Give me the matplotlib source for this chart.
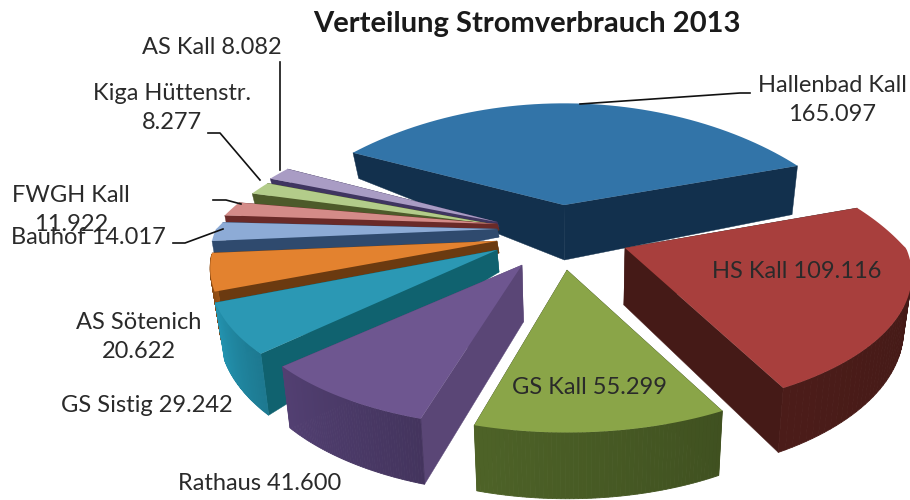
import matplotlib
matplotlib.use("Agg")
import matplotlib.pyplot as plt
from matplotlib.colors import to_rgb
from matplotlib.patches import Polygon
import numpy as np

plt.rcParams["font.family"] = ["Lato", "DejaVu Sans"]

names = ["Hallenbad Kall", "HS Kall", "GS Kall", "Rathaus", "GS Sistig",
         "AS Sötenich", "Bauhof", "FWGH Kall", "Kiga Hüttenstr.", "AS Kall"]
values = [165097, 109116, 55299, 41600, 29242, 20622, 14017, 11922, 8277, 8082]
top_colors = ["#3274a8", "#a83f3d", "#8aa548", "#6e5690", "#2b98b4",
              "#e3822f", "#8dabd6", "#d48b88", "#b3cc8a", "#a99cc4"]
wall_colors = ["#12304d", "#451a17", "#475a24", "#4b3a68", "#2086a0",
               "#8a4a14", "#5d7ca8", "#a85a56", "#80a058", "#7c6c9c"]
cut_colors = ["#12304d", "#451a17", "#3f4f1f", "#5a4676", "#10626f",
              "#6b3a10", "#2f4a6e", "#6a2a28", "#4d5a2a", "#3f3560"]

# layout of the exploded wedges, in pixels / degrees
tips = [(564, 205), (625, 248), (567, 270), (522, 265), (497, 250),
        (497, 241), (497, 229), (497, 224), (497, 225), (497, 222)]
tip_depth = [55, 57, 55, 57, 22, 12, 8, 6, 5, 5]
# the drawn perspective stretches some wedges, so edges get nudged a bit
nudge = [(-5.8, 1.5), (2, -1.6), (-2.2, -1.7), (-3.2, -1.4), (-0.4, 0.8),
         (0, 0), (0, 0), (-1.3, 0), (-6, -5.6), (-6.6, -6.3)]
draw_order = [0, 9, 8, 7, 6, 5, 4, 1, 3, 2]

start_angle = 152.3
RX, RY, RY_BACK, PERSP, DEPTH = 281, 130, 122, 0.2, 53


def project(t, tip):
    u, v = np.cos(t), np.sin(t)
    s = 1 / (1 + PERSP * v)
    dy = np.where(v > 0, RY_BACK * np.abs(v) ** 1.25, RY * v)
    d = DEPTH * s * (1 - np.clip(-u, 0, None) * np.clip(v, 0, None))
    return tip[0] + RX * u * s, tip[1] - dy * s, d


def lower_x(x):
    # walls lean a little towards the vanishing point
    return x - (x - 580) * 0.025


def draw_wedge(ax, i, a0, a1):
    tip = tips[i]
    ts = np.radians(np.linspace(a0, a1, 60))
    xs, ys, ds = project(ts, tip)
    tip_low = (lower_x(tip[0]), tip[1] + tip_depth[i])

    # cut faces first, then outer wall, then the top
    for k in (0, -1):
        ax.add_patch(Polygon([tip, (xs[k], ys[k]), (lower_x(xs[k]), ys[k] + ds[k]), tip_low],
                             fc=cut_colors[i], ec=cut_colors[i], lw=0.3))
    base = np.array(to_rgb(wall_colors[i]))
    for k in range(len(ts) - 1):
        if np.sin(ts[k]) > -0.1:
            continue
        shade = np.clip(base * (0.9 + 0.2 * k / len(ts)), 0, 1)
        ax.add_patch(Polygon([(xs[k], ys[k]), (xs[k + 1], ys[k + 1]),
                              (lower_x(xs[k + 1]), ys[k + 1] + ds[k + 1]),
                              (lower_x(xs[k]), ys[k] + ds[k])],
                             fc=shade, ec=shade, lw=0.6))
    ax.add_patch(Polygon([tip] + list(zip(xs, ys)), fc=top_colors[i], ec="none"))


fig = plt.figure(figsize=(9.1, 5.0), dpi=100)
ax = fig.add_axes([0, 0, 1, 1])
ax.set_xlim(0, 910)
ax.set_ylim(500, 0)
ax.axis("off")

sweeps = np.array(values) / sum(values) * 360
edges = start_angle - np.concatenate([[0], np.cumsum(sweeps)])
for i in draw_order:
    draw_wedge(ax, i, edges[i] + nudge[i][0], edges[i + 1] + nudge[i][1])

ax.text(527, 24, "Verteilung Stromverbrauch 2013", fontsize=21, fontweight="bold",
        ha="center", va="center", color="#1a1a1a", zorder=30)


def fmt(i):
    return f"{values[i]:,}".replace(",", ".")


labels = [(832, 100, f"{names[0]}\n{fmt(0)}"), (797, 272, f"{names[1]} {fmt(1)}"),
          (589, 388, f"{names[2]} {fmt(2)}"), (260, 483, f"{names[3]} {fmt(3)}"),
          (147, 405, f"{names[4]} {fmt(4)}"), (139, 337, f"{names[5]}\n{fmt(5)}"),
          (88, 237, f"{names[6]} {fmt(6)}"), (71, 210, f"{names[7]}\n{fmt(7)}"),
          (172, 108, f"{names[8]}\n{fmt(8)}"), (212, 47, f"{names[9]} {fmt(9)}")]
for x, y, s in labels:
    ax.text(x, y, s, fontsize=17, ha="center", va="center", color="#2a2a2a",
            linespacing=1.5, zorder=30)

leaders = [[(580, 104), (740, 93), (750, 93)],
           [(173, 243), (185, 243), (223, 229)],
           [(213, 200), (226, 200), (241, 204)],
           [(208, 133), (220, 133), (260, 180)],
           [(280, 62), (280, 170)]]
for line in leaders:
    ax.plot(*zip(*line), color="#111111", lw=1.2, zorder=20)

fig.savefig("out.png", dpi=100)
